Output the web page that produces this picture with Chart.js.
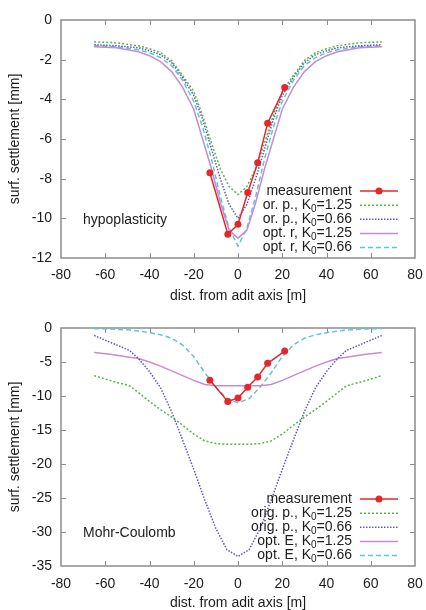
<!DOCTYPE html>
<html>
<head>
<meta charset="utf-8">
<script src="https://cdn.jsdelivr.net/npm/chart.js@4/dist/chart.umd.min.js"></script>
<style>
  html, body { margin: 0; padding: 0; background: #fff; }
  canvas { display: block; }
</style>
</head>
<body>
<canvas id="hypo" width="426" height="305"></canvas>
<canvas id="mc" width="426" height="305"></canvas>
<script>
// ---- axis ticks ----
const xTicks = [-80, -60, -40, -20, 0, 20, 40, 60, 80];
const hypoYTicks = [0, -2, -4, -6, -8, -10, -12];
const mcYTicks = [0, -5, -10, -15, -20, -25, -30, -35];

// ---- measured surface settlement ----
const measX = [-12.7, -4.6, 0.0, 4.4, 8.9, 13.4, 21.1];
const measY = [-7.7, -10.8, -10.3, -8.7, -7.2, -5.2, -3.4];

// ---- hypoplasticity runs ----
const hypoX = [-65, -55, -45, -40, -35, -30, -25, -20, -16, -12, -8, -4, 0,
               4, 8, 12, 16, 20, 25, 30, 35, 40, 45, 55, 65];
const hypoOrP125 = [-1.1, -1.15, -1.3, -1.45, -1.65, -2.05, -2.8, -3.6, -4.8, -6.2, -7.5, -8.4, -8.8,
                    -8.4, -7.5, -6.2, -4.8, -3.6, -2.8, -2.05, -1.65, -1.45, -1.3, -1.15, -1.1];
const hypoOrP066 = [-1.25, -1.3, -1.4, -1.55, -1.75, -2.15, -2.9, -3.8, -5.0, -6.5, -8.0, -9.3, -10.0,
                    -9.3, -8.0, -6.5, -5.0, -3.8, -2.9, -2.15, -1.75, -1.55, -1.4, -1.3, -1.25];
const hypoOptR125 = [-1.35, -1.4, -1.6, -1.8, -2.1, -2.6, -3.4, -4.5, -6.0, -7.5, -9.2, -10.6, -11.0,
                     -10.6, -9.2, -7.5, -6.0, -4.5, -3.4, -2.6, -2.1, -1.8, -1.6, -1.4, -1.35];
const hypoOptR066 = [-1.3, -1.35, -1.5, -1.65, -1.9, -2.3, -3.05, -4.1, -5.4, -7.0, -8.9, -10.5, -11.4,
                     -10.5, -8.9, -7.0, -5.4, -4.1, -3.05, -2.3, -1.9, -1.65, -1.5, -1.35, -1.3];

// ---- Mohr-Coulomb runs ----
const mcX = [-65, -57, -49, -45, -40, -35, -30, -25, -20, -15, -10, -5, 0,
             5, 10, 15, 20, 25, 30, 35, 40, 45, 49, 57, 65];
const mcOrigP125 = [-7.0, -7.8, -8.5, -9.5, -10.8, -12.0, -13.1, -14.3, -15.6, -16.6, -17.0, -17.1, -17.1,
                    -17.1, -17.0, -16.6, -15.6, -14.3, -13.1, -12.0, -10.8, -9.5, -8.5, -7.8, -7.0];
const mcOrigP066 = [-1.1, -2.2, -3.3, -4.5, -6.4, -8.8, -12.3, -16.5, -20.8, -25.3, -29.5, -32.6, -33.6,
                    -32.6, -29.5, -25.3, -20.8, -16.5, -12.3, -8.8, -6.4, -4.5, -3.3, -2.2, -1.1];
const mcOptE125 = [-3.6, -3.9, -4.3, -4.5, -5.0, -5.6, -6.3, -7.0, -7.7, -8.3, -8.5, -8.5, -8.5,
                   -8.5, -8.5, -8.3, -7.7, -7.0, -6.3, -5.6, -5.0, -4.5, -4.3, -3.9, -3.6];
const mcOptE066 = [-0.1, -0.15, -0.3, -0.45, -0.7, -1.0, -1.5, -2.5, -4.2, -6.6, -8.7, -10.4, -11.0,
                   -10.4, -8.7, -6.6, -4.2, -2.5, -1.5, -1.0, -0.7, -0.45, -0.3, -0.15, -0.1];

// ---- styling ----
const FONT = "'Liberation Sans', Arial, Helvetica, sans-serif";
const TEXT = '#1c1c1c';
const FRAME = '#8c8c8c';
const RED = '#e3282b', GREEN = '#5cb445', BLUE = '#5c5cb6', PINK = '#c58cd6', CYAN = '#5ec4dc';

const pts = (xs, ys) => xs.map((x, i) => ({ x: x, y: ys[i] }));

function curve(label, xs, ys, color, dash) {
  return {
    label: label, data: pts(xs, ys), borderColor: color, backgroundColor: color,
    borderWidth: 1.5, borderDash: dash, pointRadius: 0, tension: 0, fill: false
  };
}

function measurement() {
  return {
    label: 'measurement', data: pts(measX, measY), borderColor: RED, backgroundColor: RED,
    borderWidth: 1.5, pointRadius: 3.5, pointBorderWidth: 0, pointBackgroundColor: RED,
    tension: 0, fill: false, isMeasurement: true
  };
}

// label text with a "₀" drawn as a lowered, smaller 0
function drawKeyText(ctx, text, xRight, y) {
  const parts = text.split('\u2080');
  const big = '14px ' + FONT, small = '10px ' + FONT;
  ctx.textBaseline = 'middle';
  ctx.textAlign = 'left';
  ctx.font = big;
  if (parts.length === 1) {
    const w = ctx.measureText(text).width;
    ctx.fillText(text, xRight - w, y);
    return;
  }
  const w0 = ctx.measureText(parts[0]).width;
  const w2 = ctx.measureText(parts[1]).width;
  ctx.font = small;
  const w1 = ctx.measureText('0').width;
  let x = xRight - (w0 + w1 + w2);
  ctx.font = big;
  ctx.fillText(parts[0], x, y);
  x += w0;
  ctx.font = small;
  ctx.fillText('0', x, y + 4);
  x += w1;
  ctx.font = big;
  ctx.fillText(parts[1], x, y);
}

const framePlugin = {
  id: 'gnuframe',
  beforeDatasetsDraw(chart) {
    const { ctx, chartArea: a, scales } = chart;
    ctx.save();
    ctx.strokeStyle = FRAME;
    ctx.lineWidth = 1.5;
    ctx.strokeRect(a.left, a.top, a.right - a.left, a.bottom - a.top);
    ctx.lineWidth = 1;
    const len = 5;
    ctx.beginPath();
    scales.x.ticks.forEach(t => {
      const px = Math.round(scales.x.getPixelForValue(t.value)) + 0.5;
      if (px <= a.left + 1 || px >= a.right - 1) return;
      ctx.moveTo(px, a.bottom); ctx.lineTo(px, a.bottom - len);
      ctx.moveTo(px, a.top); ctx.lineTo(px, a.top + len);
    });
    scales.y.ticks.forEach(t => {
      const py = Math.round(scales.y.getPixelForValue(t.value)) + 0.5;
      if (py <= a.top + 1 || py >= a.bottom - 1) return;
      ctx.moveTo(a.left, py); ctx.lineTo(a.left + len, py);
      ctx.moveTo(a.right, py); ctx.lineTo(a.right - len, py);
    });
    ctx.stroke();
    ctx.restore();
  },
  afterDatasetsDraw(chart, args, opts) {
    const { ctx, chartArea: a } = chart;
    const sets = chart.data.datasets;
    ctx.save();
    ctx.fillStyle = TEXT;
    // model name
    ctx.font = '14px ' + FONT;
    ctx.textAlign = 'left';
    ctx.textBaseline = 'middle';
    ctx.fillText(opts.name, a.left + 22, a.bottom - opts.nameLift);
    // key, bottom-right inside the frame
    const n = sets.length;
    const textRight = a.right - 63;
    const s0 = a.right - 55, s1 = a.right - 17;
    sets.forEach((ds, i) => {
      const y = a.bottom - 10.5 - (n - 1 - i) * 14.1;
      ctx.fillStyle = TEXT;
      drawKeyText(ctx, ds.label, textRight, y);
      ctx.strokeStyle = ds.borderColor;
      ctx.lineWidth = ds.borderWidth;
      ctx.setLineDash(ds.borderDash || []);
      ctx.beginPath();
      ctx.moveTo(s0, y); ctx.lineTo(s1, y);
      ctx.stroke();
      ctx.setLineDash([]);
      if (ds.isMeasurement) {
        ctx.fillStyle = ds.borderColor;
        ctx.beginPath();
        ctx.arc((s0 + s1) / 2, y, ds.pointRadius, 0, Math.PI * 2);
        ctx.fill();
      }
    });
    ctx.restore();
  }
};

function makeChart(id, datasets, yTicks, yMin, lay) {
  const tickFont = { family: FONT, size: 14 };
  return new Chart(document.getElementById(id), {
    type: 'line',
    data: { datasets: datasets },
    options: {
      responsive: false,
      animation: false,
      events: [],
      layout: { padding: { left: 0, right: 11, top: lay.top, bottom: 0 } },
      plugins: {
        legend: { display: false },
        tooltip: { enabled: false },
        gnuframe: { name: lay.name, nameLift: lay.nameLift }
      },
      scales: {
        x: {
          type: 'linear', min: -80, max: 80,
          afterBuildTicks: s => { s.ticks = xTicks.map(v => ({ value: v })); },
          afterFit: s => { s.height = lay.xh; s.paddingLeft = 0; s.paddingRight = 0; },
          grid: { display: false, drawTicks: false },
          border: { display: false },
          ticks: { padding: lay.tp, font: tickFont, color: TEXT, maxRotation: 0 },
          title: { display: true, text: 'dist. from adit axis [m]', font: tickFont, color: TEXT,
                   padding: { top: 0, bottom: lay.tb } }
        },
        y: {
          type: 'linear', min: yMin, max: 0,
          afterBuildTicks: s => { s.ticks = yTicks.map(v => ({ value: v })); },
          afterFit: s => { s.width = 61; s.paddingTop = 0; s.paddingBottom = 0; },
          grid: { display: false, drawTicks: false },
          border: { display: false },
          ticks: { padding: 9, font: tickFont, color: TEXT },
          title: { display: true, text: 'surf. settlement [mm]', font: tickFont, color: TEXT,
                   padding: { top: 7, bottom: 0 } }
        }
      }
    },
    plugins: [framePlugin]
  });
}

makeChart('hypo', [
  measurement(),
  curve('or. p., K\u2080=1.25', hypoX, hypoOrP125, GREEN, [2, 2]),
  curve('or. p., K\u2080=0.66', hypoX, hypoOrP066, BLUE, [1.5, 1.5]),
  curve('opt. r, K\u2080=1.25', hypoX, hypoOptR125, PINK, []),
  curve('opt. r, K\u2080=0.66', hypoX, hypoOptR066, CYAN, [5, 3])
], hypoYTicks, -12, { top: 20, xh: 47, tp: 9, tb: 0, name: 'hypoplasticity', nameLift: 38 });

makeChart('mc', [
  measurement(),
  curve('orig. p., K\u2080=1.25', mcX, mcOrigP125, GREEN, [2, 2]),
  curve('orig. p., K\u2080=0.66', mcX, mcOrigP066, BLUE, [1.5, 1.5]),
  curve('opt. E, K\u2080=1.25', mcX, mcOptE125, PINK, []),
  curve('opt. E, K\u2080=0.66', mcX, mcOptE066, CYAN, [5, 3])
], mcYTicks, -35, { top: 23, xh: 44, tp: 10, tb: -2, name: 'Mohr-Coulomb', nameLift: 33 });
</script>
</body>
</html>
